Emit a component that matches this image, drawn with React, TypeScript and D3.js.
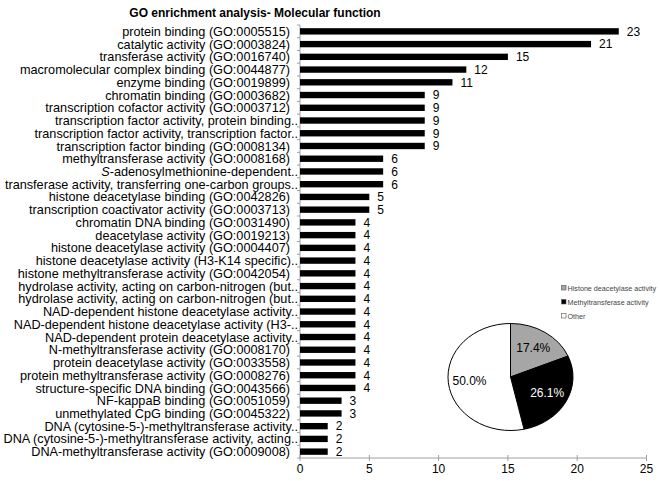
import React from "react";
import * as d3 from "d3";

const categories: string[] = [
  "protein binding (GO:0005515)",
  "catalytic activity (GO:0003824)",
  "transferase activity (GO:0016740)",
  "macromolecular complex binding (GO:0044877)",
  "enzyme binding (GO:0019899)",
  "chromatin binding (GO:0003682)",
  "transcription cofactor activity (GO:0003712)",
  "transcription factor activity, protein binding..",
  "transcription factor activity, transcription factor..",
  "transcription factor binding (GO:0008134)",
  "methyltransferase activity (GO:0008168)",
  "S-adenosylmethionine-dependent..",
  "transferase activity, transferring one-carbon groups..",
  "histone deacetylase binding (GO:0042826)",
  "transcription coactivator activity (GO:0003713)",
  "chromatin DNA binding (GO:0031490)",
  "deacetylase activity (GO:0019213)",
  "histone deacetylase activity (GO:0004407)",
  "histone deacetylase activity (H3-K14 specific)..",
  "histone methyltransferase activity (GO:0042054)",
  "hydrolase activity, acting on carbon-nitrogen (but..",
  "hydrolase activity, acting on carbon-nitrogen (but..",
  "NAD-dependent histone deacetylase activity..",
  "NAD-dependent histone deacetylase activity (H3-..",
  "NAD-dependent protein deacetylase activity..",
  "N-methyltransferase activity (GO:0008170)",
  "protein deacetylase activity (GO:0033558)",
  "protein methyltransferase activity (GO:0008276)",
  "structure-specific DNA binding (GO:0043566)",
  "NF-kappaB binding (GO:0051059)",
  "unmethylated CpG binding (GO:0045322)",
  "DNA (cytosine-5-)-methyltransferase activity..",
  "DNA (cytosine-5-)-methyltransferase activity, acting..",
  "DNA-methyltransferase activity (GO:0009008)",
];

const counts: number[] = [
  23, 21, 15, 12, 11, 9, 9, 9, 9, 9, 6, 6, 6, 5, 5, 4, 4, 4, 4, 4, 4, 4, 4, 4,
  4, 4, 4, 4, 4, 3, 3, 2, 2, 2,
];

const xTicks: number[] = [0, 5, 10, 15, 20, 25];

const pieLabels: string[] = [
  "Histone deacetylase activity",
  "Methyltransferase activity",
  "Other",
];
const pieValues: number[] = [17.4, 26.1, 50.0];
const pieColors: string[] = ["#a6a6a6", "#000000", "#ffffff"];

const FONT = "'Liberation Sans', Arial, sans-serif";

export default function App() {
  const x = d3.scaleLinear().domain([0, 25]).range([300, 646.5]);
  const idx = categories.map((_, i) => String(i));
  const y = d3.scaleBand().domain(idx).range([25, 458]).paddingInner(0.5).paddingOuter(0.25);
  const step = y.step();

  // pie
  const cx = 510.5;
  const cy = 377;
  const rx = 62.5;
  const ry = 53.5;
  const pie = d3.pie<number>().sort(null).value((d) => d);
  const arcs = pie(pieValues);
  const arcGen = d3.arc<d3.PieArcDatum<number>>().innerRadius(0).outerRadius(rx);
  const labelArc = d3.arc<d3.PieArcDatum<number>>().innerRadius(rx * 0.66).outerRadius(rx * 0.66);

  return (
    <svg
      width={660}
      height={481}
      style={{ position: "absolute", left: 0, top: 0, background: "#fff" }}
      fontFamily={FONT}
    >
      <rect x={0} y={0} width={660} height={481} fill="#fff" />
      <text x={255} y={17} textAnchor="middle" fontSize={12} fontWeight="bold" fill="#000">
        GO enrichment analysis- Molecular function
      </text>

      {/* y axis */}
      <line x1={300} x2={300} y1={25} y2={458} stroke="#a0a0a0" strokeWidth={1} />
      {d3.range(categories.length + 1).map((i) => {
        const yy = 25 + i * step;
        return <line key={"yt" + i} x1={297} x2={300} y1={yy} y2={yy} stroke="#a0a0a0" />;
      })}

      {/* x axis */}
      <line x1={300} x2={646.5} y1={458} y2={458} stroke="#a0a0a0" strokeWidth={1} />
      {xTicks.map((t) => (
        <g key={"xt" + t}>
          <line x1={x(t)} x2={x(t)} y1={455} y2={461} stroke="#a0a0a0" />
          <text x={x(t)} y={473} textAnchor="middle" fontSize={12} fill="#000">
            {t}
          </text>
        </g>
      ))}

      {/* bars */}
      {categories.map((c, i) => {
        const yy = y(String(i))!;
        const bw = y.bandwidth();
        const cyy = yy + bw / 2;
        const trunc = c.endsWith("..");
        const isS = c.startsWith("S-adenosyl");
        return (
          <g key={"b" + i}>
            <rect x={x(0)} y={yy} width={x(counts[i]) - x(0)} height={bw} fill="#000" />
            <text x={x(counts[i]) + 8} y={cyy} dy="0.36em" fontSize={12} fill="#000">
              {counts[i]}
            </text>
            <text
              x={trunc ? 298 : 290}
              y={cyy}
              dy="0.36em"
              textAnchor="end"
              fontSize={12.7}
              fill="#000"
            >
              {isS ? (
                <>
                  <tspan fontStyle="italic">S</tspan>
                  {c.slice(1)}
                </>
              ) : (
                c
              )}
            </text>
          </g>
        );
      })}

      {/* pie */}
      <g transform={`translate(${cx},${cy}) scale(1,${ry / rx})`}>
        {arcs.map((a, i) => (
          <path
            key={"p" + i}
            d={arcGen(a)!}
            fill={pieColors[i]}
            stroke="#000"
            strokeWidth={1}
            vectorEffect="non-scaling-stroke"
          />
        ))}
      </g>
      {arcs.map((a, i) => {
        const [lx, ly] = labelArc.centroid(a);
        return (
          <text
            key={"pl" + i}
            x={cx + lx}
            y={cy + ly * (ry / rx)}
            dy="0.36em"
            textAnchor="middle"
            fontSize={12}
            fill={i === 1 ? "#fff" : "#000"}
          >
            {a.data.toFixed(1)}%
          </text>
        );
      })}

      {/* legend */}
      {pieLabels.map((l, i) => {
        const ly = 288 + i * 14;
        return (
          <g key={"lg" + i}>
            <rect x={561.5} y={ly - 2.5} width={4.5} height={4.5} fill={pieColors[i]} stroke="#555" strokeWidth={0.6} />
            <text x={567.5} y={ly} dy="0.35em" fontSize={7.2} fill="#444">
              {l}
            </text>
          </g>
        );
      })}
    </svg>
  );
}
